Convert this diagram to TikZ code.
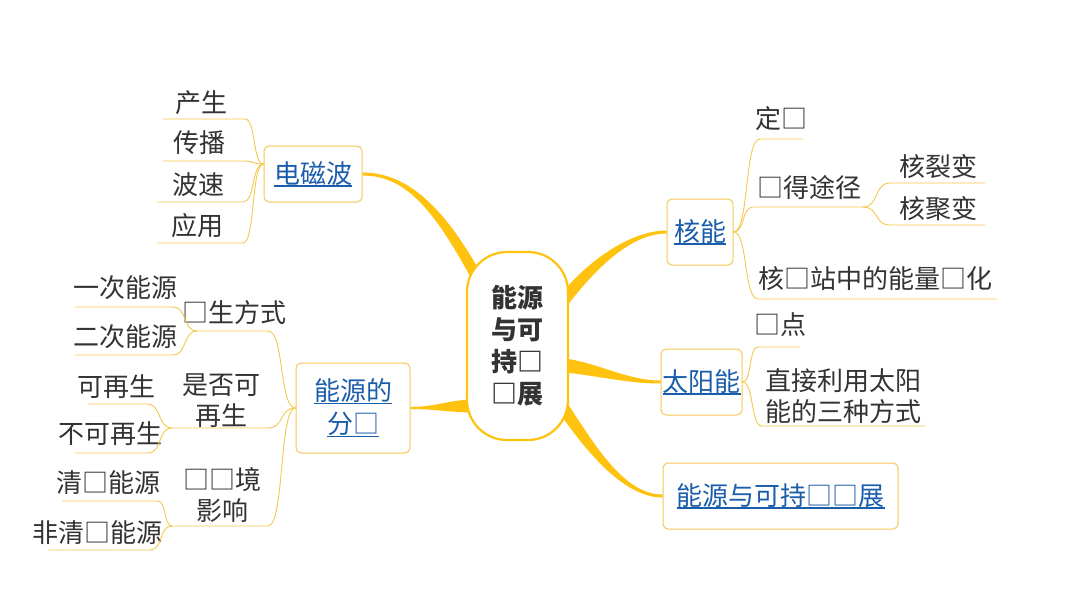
\documentclass[tikz,border=0pt]{standalone}
\usepackage{fontspec}
\setmainfont{Noto Sans CJK SC}
\usetikzlibrary{calc,backgrounds}
\definecolor{branchc}{HTML}{FFC20E}
\definecolor{twigc}{HTML}{F5C84C}
\definecolor{boxc}{HTML}{F6C754}
\definecolor{txtc}{HTML}{333333}
\definecolor{linkc}{HTML}{1A5DAB}
\newcommand{\lnk}[1]{\setbox0\hbox{#1}\rlap{\raisebox{-3.2pt}{\rule{\wd0}{1.3pt}}}\box0}
% leaf text node with underline end coordinates
\newcommand{\txt}[6]{\node[leaf] (#1) at (#2) {#3};
  \coordinate (#1-l) at (#5,#4); \coordinate (#1-r) at (#6,#4);}
\newcommand{\twigL}[2]{\draw[twig] (#1-l) -- (#1-r) .. controls ($(#1-r)!.6!(#2 |- #1-r)$) and ($(#2)!.6!(#1-r |- #2)$) .. (#2);}
\newcommand{\twigR}[2]{\draw[twig] (#2) .. controls ($(#2)!.6!(#1-l |- #2)$) and ($(#1-l)!.6!(#2 |- #1-l)$) .. (#1-l) -- (#1-r);}
\newcommand{\taper}[6]{\fill[branch] ($(#1)+(#5)$) .. controls ($(#1)+(#3)+(#5)$) and ($(#2)+(#4)+(#6)$) .. ($(#2)+(#6)$) -- ($(#2)-(#6)$) .. controls ($(#2)+(#4)-(#6)$) and ($(#1)+(#3)-(#5)$) .. ($(#1)-(#5)$) -- cycle;}
\begin{document}
\begin{tikzpicture}[x=1pt,y=-1pt,
  leaf/.style={font=\fontsize{26}{31}\selectfont, text=txtc, inner sep=0pt, align=center},
  topic/.style={draw=boxc, line width=1pt, rounded corners=5pt, fill=white,
    font=\fontsize{26}{33}\selectfont, text=linkc, align=center, inner sep=0pt},
  hub/.style={draw=branchc, line width=2.2pt, rounded corners=40pt, fill=white,
    font=\bfseries\fontsize{26}{32}\selectfont, text=txtc, align=center, inner sep=0pt},
  twig/.style={draw=twigc, line width=0.9pt},
  branch/.style={fill=branchc}]
\useasboundingbox (0,0) rectangle (1066,600);

% central topic and main topics
\node[hub, minimum width=101pt, minimum height=188pt] (c) at (517.5,346) {能源\\与可\\持□\\□展};
\node[topic, minimum width=98pt, minimum height=56pt] (em) at (313,174) {\lnk{电磁波}};
\node[topic, minimum width=114pt, minimum height=90pt] (cls) at (353,408) {\lnk{能源的}\\\lnk{分□}};
\node[topic, minimum width=66pt, minimum height=66pt] (nuc) at (700,232) {\lnk{核能}};
\node[topic, minimum width=81pt, minimum height=66pt] (sun) at (701.5,382) {\lnk{太阳能}};
\node[topic, minimum width=235pt, minimum height=66pt] (sus) at (780.5,496) {\lnk{能源与可持□□展}};

% branch start points inside the hub
\coordinate (sA) at ($(c.center)+(-36.5,-61)$);
\coordinate (sB) at ($(c.center)+(-42.5,60)$);
\coordinate (sC) at ($(c.center)+(43.5,-42)$);
\coordinate (sD) at ($(c.center)+(42.5,19)$);
\coordinate (sE) at ($(c.center)+(40.5,54)$);

\begin{scope}[on background layer]
\fill[white] (0,0) rectangle (1066,600);
\taper{sA}{em.east}{-40,-75}{45,0}{4.8,-2.6}{0,-1.5}
\taper{sB}{cls.east}{-25,0}{25,0}{0,6.5}{0,1}
\taper{sC}{nuc.west}{30,-40}{-35,0}{4.8,3.6}{0,1.5}
\taper{sD}{sun.west}{35,3}{-35,0}{0,7}{0,1.5}
\taper{sE}{sus.west}{30,45}{-40,0}{-5,3.3}{0,1.5}
\end{scope}

% junctions
\coordinate (jem) at ($(em.west)+(0,-10)$);
\coordinate (jcls) at (cls.west);
\coordinate (jnuc) at (nuc.east);
\coordinate (jsun) at (sun.east);

% left: electromagnetic waves
\txt{cs}{201,102.5}{产生}{119}{163}{245}
\txt{cb}{199.5,143}{传播}{161}{163}{243}
\txt{bs}{198,185}{波速}{202}{157}{243}
\txt{yy}{197,226}{应用}{243}{157}{243}
\twigL{cs}{jem}
\twigL{cb}{jem}
\twigL{bs}{jem}
\twigL{yy}{jem}

% left: classification
\txt{csfs}{234.5,312.5}{□生方式}{331}{197}{268}
\txt{yc}{125,288}{一次能源}{307}{75}{173}
\txt{ec}{125,337}{二次能源}{355}{75}{173}
\txt{sf}{221,401}{是否可\\再生}{428}{172}{268}
\txt{kz}{116.5,387}{可再生}{404}{88}{147}
\txt{bk}{110,434}{不可再生}{453}{75}{148}
\txt{hj}{222,495}{□□境\\影响}{526}{172}{268}
\txt{qj}{108.5,482.5}{清□能源}{501}{62}{158}
\txt{fq}{97,532.5}{非清□能源}{550}{48}{150}
\twigL{csfs}{jcls}
\twigL{yc}{csfs-l}
\twigL{ec}{csfs-l}
\twigL{sf}{jcls}
\twigL{kz}{sf-l}
\twigL{bk}{sf-l}
\twigL{hj}{jcls}
\twigL{qj}{hj-l}
\twigL{fq}{hj-l}

% right: nuclear energy
\txt{dy}{781,119}{定□}{139}{760}{803}
\txt{hd}{809.5,187.5}{□得途径}{207}{753}{863}
\txt{lb}{938,166.5}{核裂变}{183}{890}{985}
\txt{jb}{938.5,208.5}{核聚变}{225}{890}{985}
\txt{zh}{875,279}{核□站中的能量□化}{299}{758}{997}
\twigR{dy}{jnuc}
\twigR{hd}{jnuc}
\twigR{lb}{hd-r}
\twigR{jb}{hd-r}
\twigR{zh}{jnuc}

% right: solar energy
\txt{td}{780,325}{□点}{347}{758}{800}
\txt{fs}{843.5,396.5}{直接利用太阳\\能的三种方式}{426}{762}{925}
\twigR{td}{jsun}
\twigR{fs}{jsun}
\end{tikzpicture}
\end{document}
